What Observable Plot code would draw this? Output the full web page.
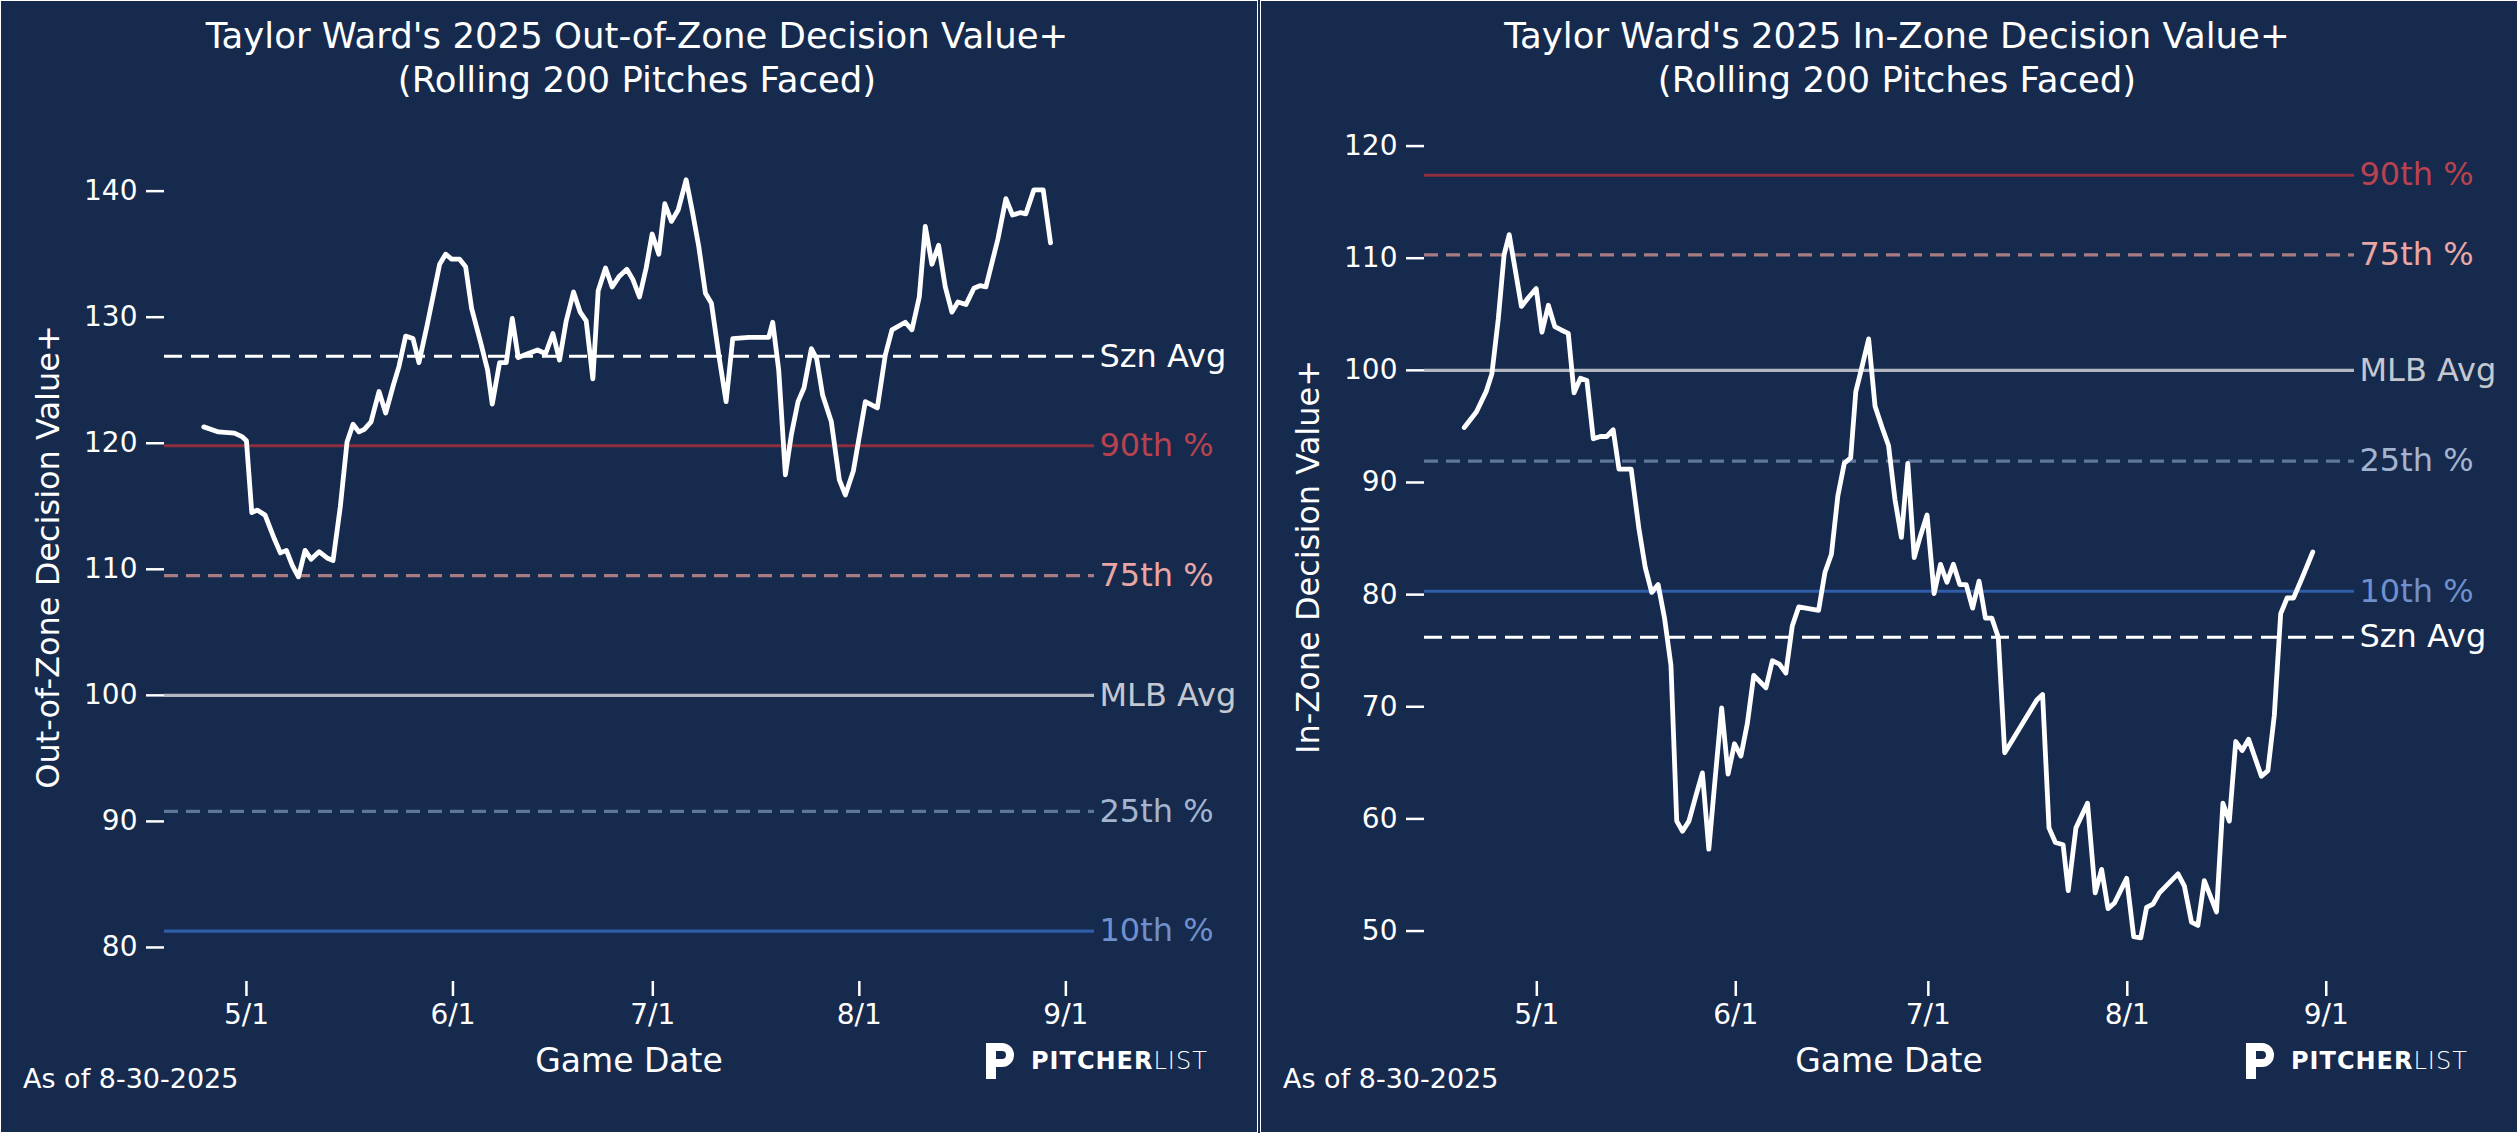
<!DOCTYPE html>
<html><head><meta charset="utf-8">
<script src="https://cdn.jsdelivr.net/npm/d3@7"></script>
<script src="https://cdn.jsdelivr.net/npm/@observablehq/plot@0.6"></script>
<style>
body{margin:0;background:#162a4e;font-family:"DejaVu Sans",sans-serif;}
.panel{position:absolute;top:0;width:1256px;height:1131px;border:1px solid #fff;background:#162a4e;overflow:hidden;}
.t{position:absolute;color:#fff;white-space:nowrap;}
.title{left:8px;width:100%;text-align:center;top:13px;font-size:35.5px;line-height:44px;}
.xl{top:1040px;left:163px;width:930px;text-align:center;font-size:33px;}
.yl{left:47px;top:556px;transform:translate(-50%,-50%) rotate(-90deg);font-size:32px;}
.asof{left:22px;top:1062px;font-size:27px;}
.logo{left:982px;top:1040px;font-size:24px;letter-spacing:1px;display:flex;align-items:center;gap:14px;}
.logo b{font-weight:bold;}
.logo .l{font-weight:300;}
svg{position:absolute;left:0;top:0;}
</style></head><body>
<div id="root"></div>
<script>
// Day offsets from 2025-05-01
const oozDays=[-6.4,-4.2,-1.8,-0.6,0,0.8,1.6,2.8,4.2,5.1,6.0,6.9,7.8,8.8,9.7,10.9,12.1,13.0,14.1,15.1,16.0,16.9,17.7,18.7,19.9,20.9,22.1,22.9,23.9,25.0,25.9,27.1,29.0,29.9,30.8,32.0,32.9,33.8,35.2,36.2,36.9,38.0,39.0,39.9,40.8,42.2,43.7,44.9,46.0,47.0,48.0,49.1,50.1,51.0,52.0,52.8,53.9,54.9,55.9,57.1,58.0,59.0,60.0,60.9,61.9,62.8,63.8,64.8,66.0,66.9,67.9,68.9,69.8,70.9,72.0,73.0,75.4,78.4,79.0,79.9,80.9,81.8,82.8,83.7,84.8,85.6,86.5,87.8,89.0,89.9,91.1,92.9,94.7,95.9,96.9,98.9,99.9,101.0,101.9,102.9,103.9,104.9,105.9,106.8,108.0,109.2,110.1,111.0,112.8,114.0,115.0,116.2,117.0,118.2,119.6,120.7];
const oozVals=[121.3,120.9,120.8,120.5,120.2,114.5,114.7,114.3,112.4,111.3,111.5,110.3,109.4,111.5,110.8,111.4,110.9,110.7,115.0,120.1,121.5,120.9,121.1,121.7,124.1,122.4,124.7,126.1,128.5,128.3,126.4,129.3,134.2,135.0,134.6,134.6,134.0,130.7,127.9,125.8,123.1,126.4,126.4,129.9,126.8,127.1,127.4,127.1,128.7,126.6,129.7,132.0,130.4,129.7,125.1,132.1,133.9,132.4,133.2,133.8,133.0,131.6,133.9,136.6,135.0,139.0,137.6,138.5,140.9,138.5,135.6,131.9,131.1,127.0,123.3,128.3,128.4,128.4,129.6,125.8,117.5,120.7,123.3,124.4,127.5,126.7,123.8,121.7,117.1,115.9,117.8,123.3,122.8,127.0,129.0,129.6,129.0,131.6,137.2,134.2,135.7,132.4,130.4,131.2,131.0,132.3,132.5,132.4,136.2,139.4,138.1,138.3,138.2,140.1,140.1,135.9];
const izDays=[-11.3,-9.4,-7.9,-7.0,-6.0,-5.1,-4.3,-3.4,-2.4,-1.3,-0.1,0.8,1.8,2.8,3.8,4.9,5.8,6.8,7.8,8.8,9.9,10.9,11.9,12.8,14.7,15.9,16.9,17.9,18.9,19.9,20.9,21.8,22.7,23.7,24.8,25.8,26.8,27.8,28.8,29.8,30.8,31.8,32.8,33.8,35.7,36.7,37.8,38.8,39.8,40.8,43.9,44.9,45.9,46.9,47.9,48.9,49.7,50.7,51.7,52.7,53.8,54.8,55.8,56.8,57.8,58.8,59.8,60.8,61.9,62.9,63.9,64.9,65.9,66.9,67.9,68.9,69.9,70.9,71.9,72.9,77.9,78.8,79.8,80.8,82.0,82.8,84.0,85.8,87.0,88.0,89.0,90.0,91.9,93.0,94.1,95.0,96.0,97.0,99.9,100.9,102.0,103.0,104.0,105.9,106.9,107.9,108.9,109.9,110.9,112.9,113.9,114.9,115.9,116.9,117.9,119.4,120.9];
const izVals=[94.9,96.3,98.1,99.7,104.6,110.3,112.1,109.1,105.7,106.5,107.3,103.4,105.8,103.9,103.6,103.3,98.0,99.3,99.1,93.9,94.1,94.1,94.7,91.2,91.2,85.9,82.4,80.2,80.9,77.9,73.7,59.8,58.9,59.8,62.1,64.1,57.3,63.7,69.9,64.0,66.7,65.6,68.5,72.8,71.7,74.1,73.8,73.0,77.2,78.9,78.6,82.0,83.6,88.8,91.7,92.2,98.1,100.4,102.8,96.8,94.9,93.3,88.5,85.1,91.7,83.3,85.3,87.1,80.1,82.7,81.1,82.7,80.9,80.9,78.8,81.2,77.9,77.9,76.2,65.9,70.6,71.1,59.2,57.9,57.7,53.6,59.2,61.4,53.4,55.5,52.0,52.5,54.7,49.5,49.4,52.1,52.4,53.4,55.1,54.0,50.8,50.5,54.5,51.7,61.4,59.8,66.9,66.1,67.1,63.8,64.3,69.2,78.3,79.7,79.7,81.7,83.8];
const refNames=["Szn Avg","90th %","75th %","MLB Avg","25th %","10th %"];
const oozRefs=[126.9,119.8,109.5,100,90.8,81.3];
const izRefs=[76.2,117.4,110.3,100,91.9,80.3];
const refLine=["#ffffff","#8e2f3f","#a67c82","#b3b7bf","#5f7599","#2f5da8"];
const refText=["#ffffff","#b8434f","#e8a6a4","#c4c8d0","#a3b4d1","#6f90cc"];
const refDash=[[18,9],null,[14,8],null,[14,8],null];
const tickDates=["2025-05-01","2025-06-01","2025-07-01","2025-08-01","2025-09-01"];

const base=Date.UTC(2025,4,1);
const toDate=d=>new Date(base+d*864e5);

function panel(left,title,ylab,days,vals,refs,xdom,ydom,yticks,mt){
  const div=document.createElement("div");div.className="panel";div.style.left=left+"px";
  document.getElementById("root").appendChild(div);
  const data=days.map((d,i)=>({date:toDate(d),v:vals[i]}));
  const refData=refNames.map((n,i)=>({n,v:refs[i],i}));
  const x0=toDate(xdom[0]),x1=toDate(xdom[1]);
  const marks=[];
  refData.forEach(r=>{
    marks.push(Plot.ruleY([r.v],{x1:x0,x2:x1,stroke:refLine[r.i],strokeWidth:3.2,strokeDasharray:refDash[r.i]?refDash[r.i].join(","):null}));
  });
  marks.push(Plot.line(data,{x:"date",y:"v",stroke:"#fff",strokeWidth:4.8,strokeLinejoin:"round"}));
  marks.push(Plot.text(refData,{x:()=>x1,y:"v",text:"n",fill:d=>refText[d.i],textAnchor:"start",dx:5,fontSize:32}));
  marks.push(Plot.axisX({ticks:tickDates.map(s=>new Date(s+"T00:00:00Z")),tickFormat:d=>(d.getUTCMonth()+1)+"/"+d.getUTCDate(),tickSize:15,tickPadding:8,fontSize:28,label:null,stroke:"#fff",strokeWidth:2.5}));
  marks.push(Plot.axisY({ticks:yticks,tickSize:18,tickPadding:9,fontSize:28,label:null,stroke:"#fff",strokeWidth:2.5}));
  const svg=Plot.plot({width:1256,height:1131,marginLeft:163,marginRight:163,marginTop:mt,marginBottom:151,
    style:{background:"transparent",color:"#fff",fontFamily:"DejaVu Sans",overflow:"visible"},
    x:{type:"utc",domain:[x0,x1]},y:{domain:ydom},marks});
  div.appendChild(svg);
  div.insertAdjacentHTML("beforeend",`<div class="t title">${title}<br>(Rolling 200 Pitches Faced)</div>
  <div class="t yl">${ylab}</div><div class="t xl">Game Date</div><div class="t asof">As of 8-30-2025</div>
  <div class="t logo"><svg width="34" height="40" viewBox="0 0 34 40" style="position:static"><path d="M3 2h16a12 12 0 0 1 0 24h-6v12H3z M13 10v8h6a4 4 0 0 0 0-8z" fill="#fff" fill-rule="evenodd"/></svg><span><b>PITCHER</b><span class="l">LIST</span></span></div>`);
}
panel(0,"Taylor Ward's 2025 Out-of-Zone Decision Value+","Out-of-Zone Decision Value+",oozDays,oozVals,oozRefs,[-12.3,127.3],[77.3,146],[80,90,100,110,120,130,140],114);
panel(1260,"Taylor Ward's 2025 In-Zone Decision Value+","In-Zone Decision Value+",izDays,izVals,izRefs,[-17.5,127.4],[45.5,125],[50,60,70,80,90,100,110,120],88.5);
</script></body></html>
